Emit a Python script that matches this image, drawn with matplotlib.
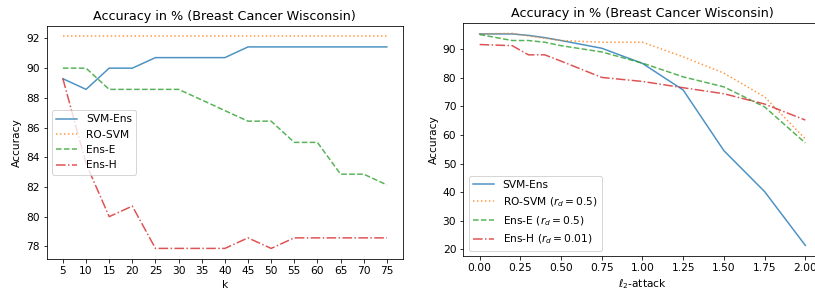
import numpy as np
import matplotlib
matplotlib.use("Agg")
import matplotlib.pyplot as plt

# ── Data: left panel (accuracy vs k) ───────────────────────────────────────────
k_values   = [5, 10, 15, 20, 25, 30, 35, 40, 45, 50, 55, 60, 65, 70, 75]
svm_ens_k  = [89.29, 88.57, 90.00, 90.00, 90.71, 90.71, 90.71, 90.71,
              91.43, 91.43, 91.43, 91.43, 91.43, 91.43, 91.43]
ro_svm_k   = [92.14] * 15
ens_e_k    = [90.00, 90.00, 88.57, 88.57, 88.57, 88.57, 87.86, 87.14,
              86.43, 86.43, 85.00, 85.00, 82.86, 82.86, 82.14]
ens_h_k    = [89.29, 83.57, 80.00, 80.71, 77.86, 77.86, 77.86, 77.86,
              78.57, 77.86, 78.57, 78.57, 78.57, 78.57, 78.57]

# ── Data: right panel (accuracy vs l2 attack) ──────────────────────────────────
attack     = [0.0, 0.2, 0.3, 0.4, 0.5, 0.75, 1.0, 1.25, 1.5, 1.75, 2.0]
svm_ens_a  = [95.3, 95.3, 94.8, 94.0, 93.0, 90.3, 85.0, 75.7, 54.5, 40.2, 21.4]
ro_svm_a   = [95.3, 95.5, 94.6, 93.8, 93.0, 92.4, 92.4, 87.3, 81.6, 73.3, 58.6]
ens_e_a    = [95.1, 93.0, 93.0, 92.4, 91.2, 89.0, 85.1, 80.3, 76.8, 69.8, 57.2]
ens_h_a    = [91.6, 91.2, 88.0, 88.0, 85.8, 80.1, 78.7, 76.5, 74.4, 70.8, 65.2]

TITLE = "Accuracy in % (Breast Cancer Wisconsin)"
ALPHA = 0.8

plt.rcParams["font.size"] = 10.6

DPI = 72
fig = plt.figure(figsize=(815 / DPI, 293 / DPI), dpi=DPI)

ax_l = fig.add_axes([0.0573, 0.116, 0.4372, 0.796])
ax_r = fig.add_axes([0.5685, 0.1263, 0.4396, 0.796])

# ── Left panel ─────────────────────────────────────────────────────────────────
ax_l.plot(k_values, svm_ens_k, color="C0", ls="-", alpha=ALPHA, label="SVM-Ens")
ax_l.plot(k_values, ro_svm_k, color="C1", ls=":", alpha=ALPHA, label="RO-SVM")
ax_l.plot(k_values, ens_e_k, color="C2", ls="--", alpha=ALPHA, label="Ens-E")
ax_l.plot(k_values, ens_h_k, color="C3", ls="-.", alpha=ALPHA, label="Ens-H")
ax_l.set_xticks(k_values)
ax_l.set_yticks([78, 80, 82, 84, 86, 88, 90, 92])
ax_l.set_xlabel("k")
ax_l.set_ylabel("Accuracy")
ax_l.set_title(TITLE)
ax_l.legend(loc="center left")

# ── Right panel ────────────────────────────────────────────────────────────────
ax_r.plot(attack, svm_ens_a, color="C0", ls="-", alpha=ALPHA, label="SVM-Ens")
ax_r.plot(attack, ro_svm_a, color="C1", ls=":", alpha=ALPHA,
          label=r"RO-SVM ($r_d = 0.5$)")
ax_r.plot(attack, ens_e_a, color="C2", ls="--", alpha=ALPHA,
          label=r"Ens-E ($r_d = 0.5$)")
ax_r.plot(attack, ens_h_a, color="C3", ls="-.", alpha=ALPHA,
          label=r"Ens-H ($r_d = 0.01$)")
ax_r.set_xticks(np.arange(0, 2.01, 0.25))
ax_r.set_xlabel(r"$\ell_2$-attack")
ax_r.set_ylabel("Accuracy")
ax_r.set_title(TITLE)
ax_r.legend(loc="lower left")

fig.savefig("out.png", dpi=DPI)
